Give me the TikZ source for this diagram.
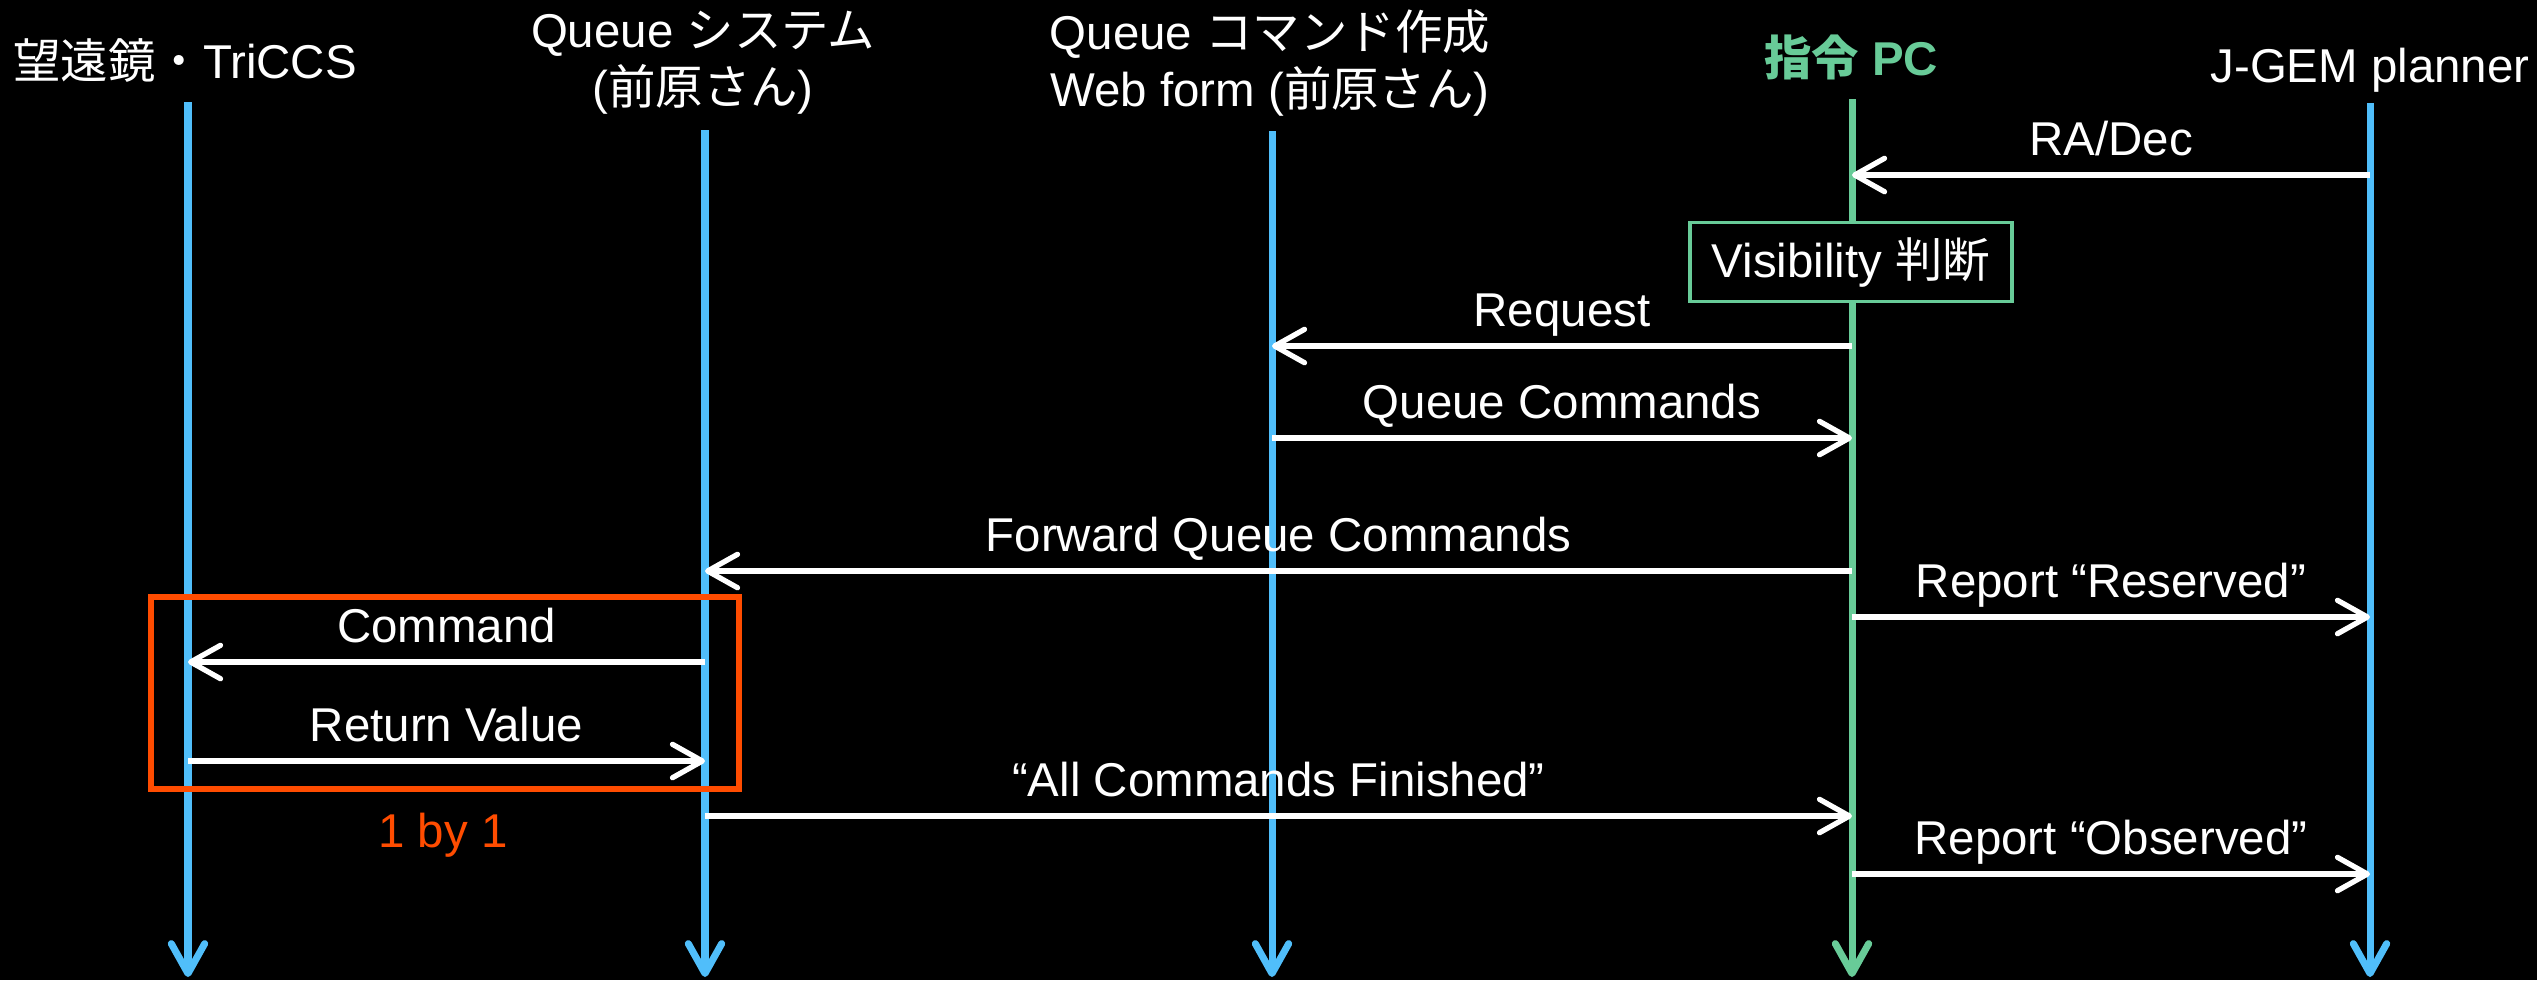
\documentclass[tikz,border=0pt]{standalone}
\usepackage{fontspec}
\setmainfont{Liberation Sans}
\newfontfamily\jp{Noto Sans CJK JP}
\usetikzlibrary{arrows.meta}
\definecolor{lineblue}{RGB}{80,190,250}
\definecolor{pcgreen}{RGB}{104,203,152}
\definecolor{looporange}{RGB}{255,76,0}

\begin{document}
\begin{tikzpicture}[
    font=\fontsize{13.5pt}{16.3pt}\selectfont,
    head/.style={text=white,inner sep=0pt,align=center},
    life/.style={line width=2pt,-{Straight Barb[length=8.5pt,width=9.5pt,round]}},
    msg/.style={draw=white,line width=1.5pt,-{Straight Barb[length=8.5pt,width=9.5pt,round]}},
    lbl/.style={text=white,inner sep=0pt,anchor=base,yshift=0.2cm}]
  \path[fill=black] (0,0) rectangle (25.37,-9.80);
  \useasboundingbox (0,0) rectangle (25.37,-9.80);

  % lifelines
  \coordinate (tel) at (1.88,-1.02);
  \coordinate (qs) at (7.05,-1.30);
  \coordinate (web) at (12.72,-1.31);
  \coordinate (pc) at (18.52,-0.99);
  \coordinate (jg) at (23.70,-1.03);
  \coordinate (bottom) at (0,-9.77);
  \foreach \n in {tel,qs,web,jg}
    \path[life,draw=lineblue] (\n) -- (\n |- bottom);
  \path[life,draw=pcgreen] (pc) -- (pc |- bottom);

  % headers
  \node[head,anchor=base] (h-tel) at (1.85,-0.78) {{\jp 望遠鏡・}TriCCS};
  \node[head] (h-qs) at (7.03,-0.63) {Queue {\jp システム}\\({\jp 前原さん})};
  \node[head] (h-web) at (12.70,-0.63) {Queue {\jp コマンド作成}\\Web form ({\jp 前原さん})};
  \node[head,anchor=base,text=pcgreen,font=\fontsize{13.5pt}{16.3pt}\selectfont\bfseries]
    (h-pc) at (18.51,-0.75) {{\jp\bfseries 指令} PC};
  \node[head,anchor=base] (h-jg) at (23.70,-0.82) {J-GEM planner};

  % visibility check
  \node[draw=pcgreen,fill=black,line width=1pt,text=white,
    minimum width=3.22cm,minimum height=0.79cm,inner sep=0pt]
    (vis) at (18.51,-2.62) {Visibility {\jp 判断}};

  % 1 by 1 loop
  \path[draw=looporange,line width=1.7pt] (1.51,-5.97) rectangle (7.39,-7.89);
  \node[text=looporange,inner sep=0pt,anchor=base] (once) at (4.43,-8.47) {1 by 1};

  % messages
  \coordinate (m-radec) at (0,-1.75);
  \coordinate (m-req) at (0,-3.46);
  \coordinate (m-qcmd) at (0,-4.38);
  \coordinate (m-fwd) at (0,-5.71);
  \coordinate (m-rsv) at (0,-6.17);
  \coordinate (m-cmd) at (0,-6.62);
  \coordinate (m-ret) at (0,-7.61);
  \coordinate (m-fin) at (0,-8.16);
  \coordinate (m-obs) at (0,-8.74);

  \path[msg] (jg |- m-radec) -- node[lbl] {RA/Dec} (pc |- m-radec);
  \path[msg] (pc |- m-req) -- node[lbl] {Request} (web |- m-req);
  \path[msg] (web |- m-qcmd) -- node[lbl] {Queue Commands} (pc |- m-qcmd);
  \path[msg] (pc |- m-fwd) -- node[lbl] {Forward Queue Commands} (qs |- m-fwd);
  \path[msg] (pc |- m-rsv) -- node[lbl] {Report “Reserved”} (jg |- m-rsv);
  \path[msg] (qs |- m-cmd) -- node[lbl] {Command} (tel |- m-cmd);
  \path[msg] (tel |- m-ret) -- node[lbl] {Return Value} (qs |- m-ret);
  \path[msg] (qs |- m-fin) -- node[lbl] {“All Commands Finished”} (pc |- m-fin);
  \path[msg] (pc |- m-obs) -- node[lbl] {Report “Observed”} (jg |- m-obs);
\end{tikzpicture}
\end{document}
